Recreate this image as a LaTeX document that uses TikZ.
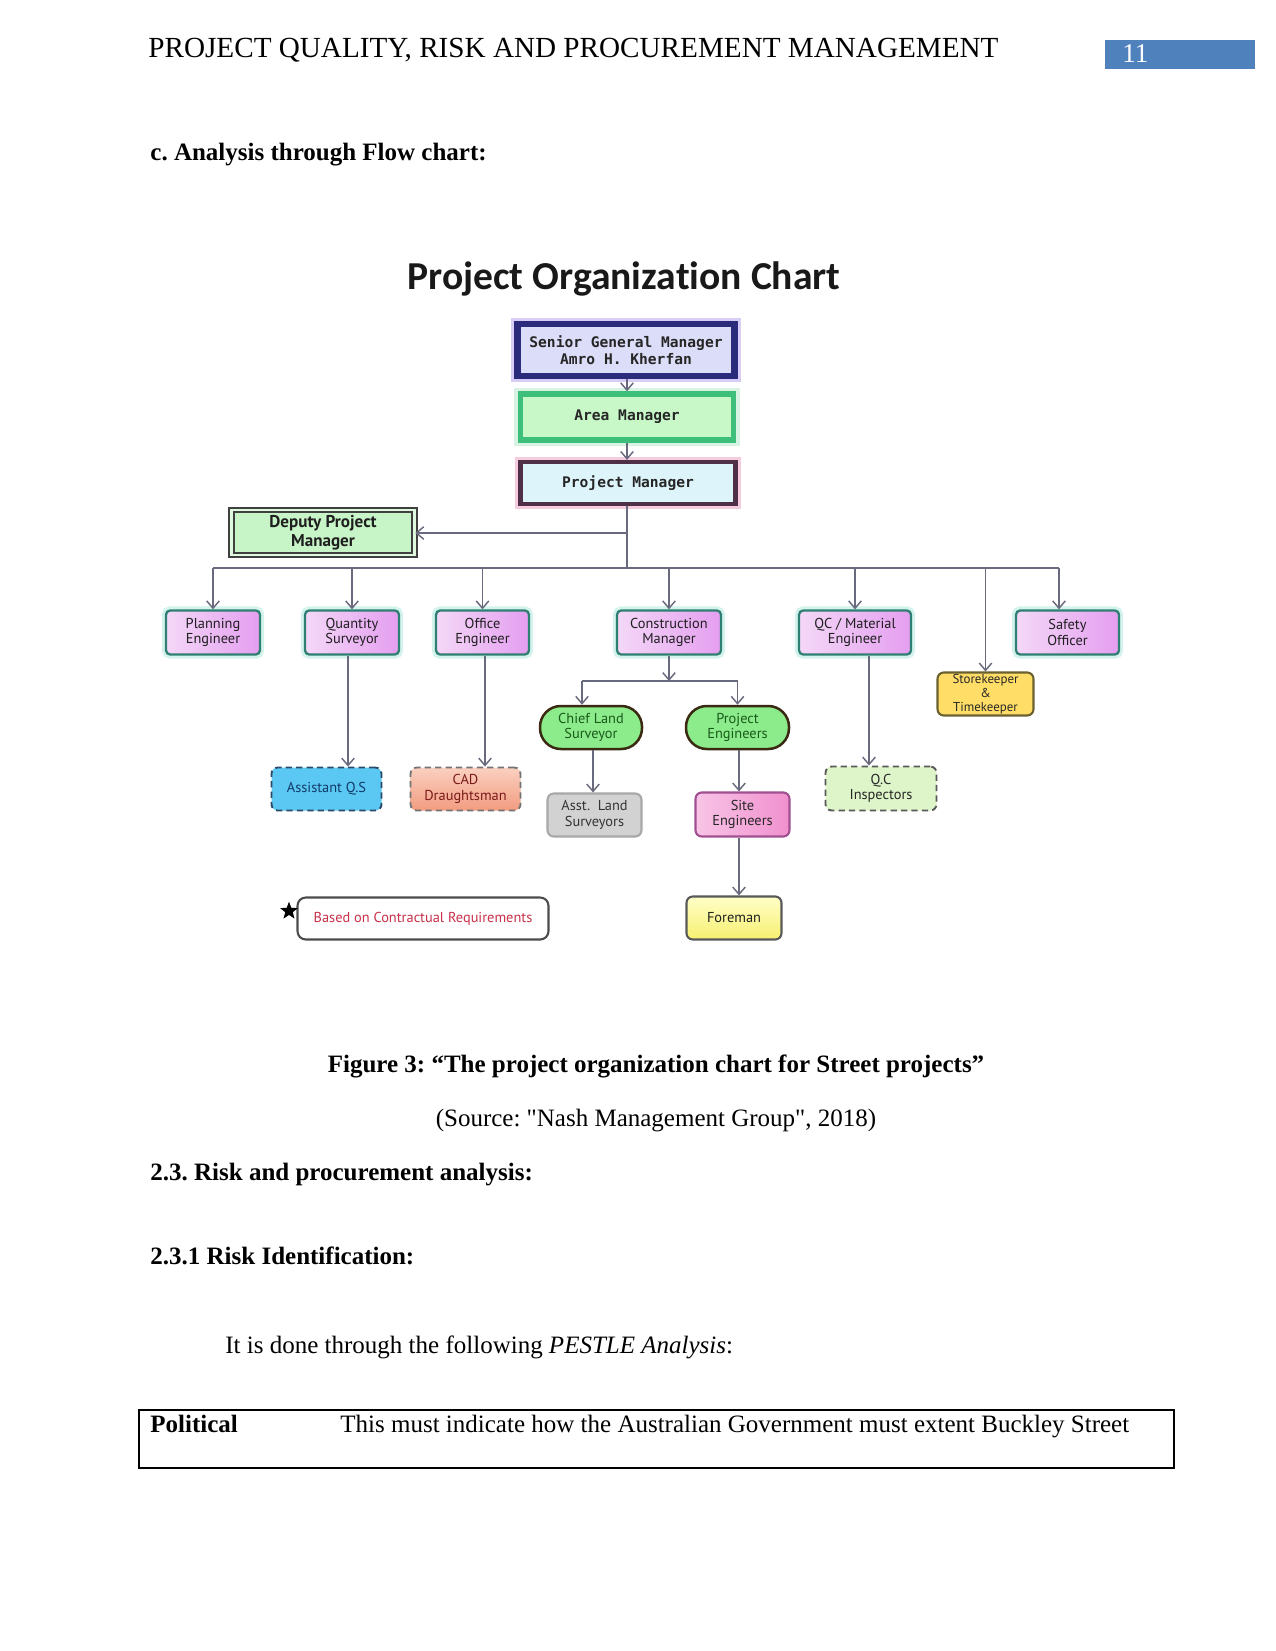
\documentclass[tikz,border=0pt]{standalone}
\usepackage{fontspec}
\setmainfont{Liberation Serif}
\newfontfamily\rawserif{Liberation Serif}
\newfontfamily\titlefont{Carlito}[Ligatures=NoCommon]
\newfontfamily\boxfont{PT Sans}
\newfontfamily\monofont{DejaVu Sans Mono}
\usetikzlibrary{arrows.meta,shapes.geometric}
\def\PX{0.48pt}
\definecolor{wordblue}{HTML}{4F81BD}
\definecolor{linec}{HTML}{6A6A7E}
\definecolor{navyb}{HTML}{2B2B7B}
\definecolor{lavf}{HTML}{DCDDF8}
\definecolor{purglow}{HTML}{8F70E8}
\definecolor{areab}{HTML}{3DBE7A}
\definecolor{areaf}{HTML}{C8F8C8}
\definecolor{pmb}{HTML}{503048}
\definecolor{pmf}{HTML}{DDF4FA}
\definecolor{pinkglow}{HTML}{E890B8}
\definecolor{dpmf}{HTML}{C8F5C8}
\definecolor{tealb}{HTML}{2F7F72}
\definecolor{tealglow}{HTML}{9FE6D6}
\definecolor{lvlL}{HTML}{F4D8F7}
\definecolor{lvlR}{HTML}{E49EF0}
\definecolor{storef}{HTML}{FFDD66}
\definecolor{storeb}{HTML}{6B6030}
\definecolor{pillf}{HTML}{8CEC8C}
\definecolor{pillb}{HTML}{3A2A12}
\definecolor{pillt}{HTML}{1A5A1A}
\definecolor{asstf}{HTML}{D2D2D2}
\definecolor{asstb}{HTML}{A8A8A8}
\definecolor{siteL}{HTML}{F8C4E6}
\definecolor{siteR}{HTML}{F090CE}
\definecolor{siteb}{HTML}{A05090}
\definecolor{foreT}{HTML}{FFFFC8}
\definecolor{foreB}{HTML}{F6F070}
\definecolor{qcif}{HTML}{DDF5C8}
\definecolor{aqsf}{HTML}{5AC8F2}
\definecolor{aqsb}{HTML}{2A4A6A}
\definecolor{aqst}{HTML}{123A6A}
\definecolor{cadT}{HTML}{FAD0C0}
\definecolor{cadB}{HTML}{F29C80}
\definecolor{cadt}{HTML}{7A1A1A}
\definecolor{legt}{HTML}{C8304A}
\frenchspacing
\tikzset{
  con/.style={draw=linec, line width=0.7pt},
  arr/.style={con, -{Straight Barb[length=3.5pt,width=6pt]}},
  txt/.style={inner sep=0pt, anchor=base west, font=\frenchspacing\fontsize{12}{14.5}\selectfont},
  btxt/.style={inner sep=0pt, anchor=base west, font=\frenchspacing\fontsize{12}{14.5}\selectfont\bfseries},
  mono/.style={font=\monofont\bfseries\fontsize{7}{8.2}\selectfont, align=center, inner sep=0pt, text=black!85},
  lvl/.style={draw=tealb, line width=1.1pt, rounded corners=2pt, left color=lvlL, right color=lvlR,
    preaction={draw=tealglow, line width=4pt, opacity=0.45},
    font=\boxfont\fontsize{6.9}{7.4}\selectfont, text=black!88, align=center, inner sep=0pt},
  small/.style={font=\boxfont\fontsize{6.9}{7.4}\selectfont, align=center, inner sep=0pt},
  pill/.style={small, draw=pillb, line width=1.2pt, rounded corners=10pt, fill=pillf, text=pillt},
  dashbox/.style={small, line width=0.9pt, dash pattern=on 3pt off 2pt, rounded corners=3pt},
}
\begin{document}
\begin{tikzpicture}[x=0.48pt, y=-0.48pt]
\useasboundingbox[fill=white] (0,0) rectangle (1275,1651);

% page header
\node[txt, font=\fontsize{14}{17}\selectfont] (hdr) at (148,58) {PROJECT QUALITY, RISK AND PROCUREMENT MANAGEMENT};
\node[fill=wordblue, anchor=north west, minimum width=150*\PX, minimum height=29*\PX, inner sep=0pt] (pgbox) at (1105,40) {};
\node[txt, text=white, font=\fontsize{13}{15}\selectfont] (pgnum) at (1122,63) {11};
\node[btxt] (secc) at (150,161) {c. Analysis through Flow chart:};

% chart title
\node[inner sep=0pt, anchor=base, font=\titlefont\bfseries\fontsize{19}{22}\selectfont, text=black!90] (title) at (624,290) {Project Organization Chart};

% top boxes
\node[mono, draw=navyb, line width=3pt, fill=lavf, preaction={draw=purglow, line width=6pt, opacity=0.35},
  minimum width=217*\PX, minimum height=52*\PX] (sgm) at (626,350) {Senior General Manager\\Amro H. Kherfan};
\node[mono, draw=areab, line width=2.6pt, fill=areaf, preaction={draw=areab!50, line width=6pt, opacity=0.4},
  minimum width=213*\PX, minimum height=46*\PX] (area) at (627,417) {Area Manager};
\node[mono, draw=pmb, line width=2pt, fill=pmf, preaction={draw=pinkglow, line width=5pt, opacity=0.45},
  minimum width=215*\PX, minimum height=42*\PX] (pm) at (628,483) {Project Manager};

\node[small, font=\boxfont\bfseries\fontsize{8.2}{9.2}\selectfont, draw=black!75, line width=0.8pt, double=dpmf!60!white, double distance=1.3pt, fill=dpmf,
  minimum width=183*\PX, minimum height=45*\PX, text=black!88] (dpm) at (323,532.5) {Deputy Project\\Manager};

% level 2
\node[lvl, minimum width=94*\PX, minimum height=44*\PX] (plan) at (213,632.5) {Planning\\Engineer};
\node[lvl, minimum width=94*\PX, minimum height=44*\PX] (qs) at (352,632.5) {Quantity\\Surveyor};
\node[lvl, minimum width=93*\PX, minimum height=44*\PX] (office) at (482.5,632.5) {Office\\Engineer};
\node[lvl, minimum width=104*\PX, minimum height=44*\PX] (cm) at (669,632.5) {Construction\\Manager};
\node[lvl, minimum width=112*\PX, minimum height=44*\PX] (qcm) at (855,632.5) {QC / Material\\Engineer};
\node[lvl, minimum width=103*\PX, minimum height=44*\PX] (safety) at (1067.5,632.5) {Safety\\Officer};
\node[small, font=\boxfont\fontsize{6.2}{6.6}\selectfont, draw=storeb, line width=1pt, rounded corners=3pt, fill=storef,
  minimum width=96*\PX, minimum height=43*\PX, text=black!85] (store) at (985.5,694) {Storekeeper\\\&\\Timekeeper};

% construction subtree
\node[pill, minimum width=102*\PX, minimum height=43*\PX] (cls) at (591,727.5) {Chief Land\\Surveyor};
\node[pill, minimum width=103*\PX, minimum height=43*\PX] (pe) at (737.5,727.5) {Project\\Engineers};
\node[small, draw=asstb, line width=1pt, rounded corners=3pt, fill=asstf, text=black!80,
  minimum width=94*\PX, minimum height=43*\PX] (asst) at (594.5,815) {Asst.~~Land\\Surveyors};
\node[small, draw=siteb, line width=1pt, rounded corners=3pt, left color=siteL, right color=siteR, text=black!85,
  minimum width=94*\PX, minimum height=44*\PX] (site) at (742.5,814.5) {Site\\Engineers};
\node[small, draw=black!65, line width=1pt, rounded corners=3pt, top color=foreT, bottom color=foreB, text=black!88,
  minimum width=95*\PX, minimum height=43*\PX] (fore) at (734,918) {Foreman};

% dashed boxes
\node[dashbox, draw=aqsb, fill=aqsf, text=aqst, minimum width=110*\PX, minimum height=43*\PX] (aqs) at (326.5,789) {Assistant Q.S};
\node[dashbox, draw=black!55, top color=cadT, bottom color=cadB, text=cadt, minimum width=110*\PX, minimum height=43*\PX] (cad) at (465.5,789) {CAD\\Draughtsman};
\node[dashbox, draw=black!65, fill=qcif, text=black!85, minimum width=111*\PX, minimum height=44*\PX] (qci) at (881,788.5) {Q.C\\Inspectors};

% legend
\node[small, draw=black!70, line width=1pt, rounded corners=4pt, fill=white, text=legt, font=\boxfont\fontsize{6.9}{8}\selectfont,
  minimum width=251*\PX, minimum height=42*\PX] (leg) at (423,918.5) {Based on Contractual Requirements};
\node[star, star points=5, star point ratio=2.4, fill=black, inner sep=0pt, minimum size=9pt] (star) at (289,911) {};

% connectors
\coordinate (bus) at (627,568);
\coordinate (dj) at (627,533);
\coordinate (sfx) at (1059,568);
\coordinate (sub) at (669,681);
\coordinate (clsx) at (582,681);
\coordinate (ax) at (593,0);
\coordinate (px) at (739,0);
\coordinate (qsx) at (348,0);
\coordinate (ofx) at (485,0);
\coordinate (qcx) at (869,0);

\draw[arr] (sgm.south -| area.north) -- (area.north);
\draw[arr] (area.south) -- (pm.north -| area.south);
\draw[con] (pm.south -| bus) -- (bus);
\draw[arr] (dj) -- (dpm.east |- dj);
\draw[con] (plan.north |- bus) -- (sfx);
\foreach \n in {plan,qs,office,cm,qcm,store}{
  \draw[arr] (\n.north |- bus) -- (\n.north);
}
\draw[arr] (sfx) -- (sfx |- safety.north);

\draw[arr] (cm.south) -- (sub);
\draw[con] (clsx) -- (pe.north |- sub);
\draw[arr] (clsx) -- (clsx |- cls.north);
\draw[arr] (pe.north |- sub) -- (pe.north);
\draw[arr] (ax |- cls.south) -- (ax |- asst.north);
\draw[arr] (px |- pe.south) -- (px |- site.north);
\draw[arr] (px |- site.south) -- (px |- fore.north);
\draw[arr] (qsx |- qs.south) -- (qsx |- aqs.north);
\draw[arr] (ofx |- office.south) -- (ofx |- cad.north);
\draw[arr] (qcx |- qcm.south) -- (qcx |- qci.north);

% text below
\node[btxt, anchor=base] (cap) at (656,1072) {Figure 3: “The project organization chart for Street projects”};
\node[txt, anchor=base, font=\rawserif\frenchspacing\fontsize{12}{14.5}\selectfont] (src) at (656,1126) {(Source: "Nash Management Group", 2018)};
\node[btxt] (s23) at (150,1180) {2.3. Risk and procurement analysis:};
\node[btxt] (s231) at (150,1264) {2.3.1 Risk Identification:};
\node[txt] (pestle) at (225,1353) {It is done through the following \textit{PESTLE Analysis}:};
\node[draw=black, line width=0.8pt, anchor=north west, inner sep=0pt, minimum width=1035*\PX, minimum height=58*\PX] (tbl) at (138,1409) {};
\node[btxt] (pol) at (150,1432) {Political};
\node[txt] (poltxt) at (340,1432) {This must indicate how the Australian Government must extent Buckley Street};
\end{tikzpicture}
\end{document}
